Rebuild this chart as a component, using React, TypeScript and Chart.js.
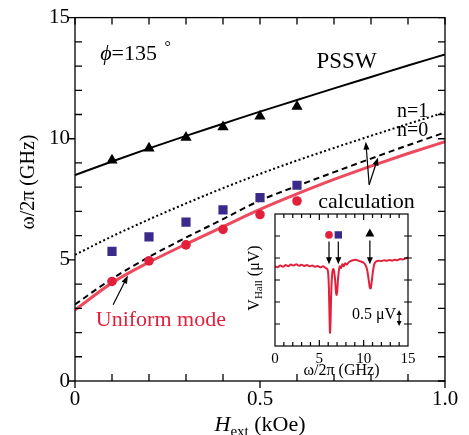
import React, { useEffect, useRef } from 'react';
import { Chart, registerables } from 'chart.js';
Chart.register(...registerables);

// ---------- data ----------
const measuredField = [0.1, 0.2, 0.3, 0.4, 0.5, 0.6];
const psswMeasured = [9.11, 9.61, 10.05, 10.48, 10.93, 11.33];
const squareMeasured = [5.35, 5.95, 6.56, 7.06, 7.57, 8.08];
const uniformMeasured = [4.11, 4.96, 5.62, 6.26, 6.87, 7.43];

const calcField = [0, 0.1, 0.2, 0.3, 0.4, 0.5, 0.6, 0.7, 0.8, 0.9, 1.0];
const psswCalc = [8.5, 9.06, 9.6, 10.12, 10.62, 11.12, 11.6, 12.08, 12.55, 13.02, 13.48];
const n1Calc = [5.21, 5.97, 6.67, 7.33, 7.96, 8.55, 9.1, 9.62, 10.12, 10.61, 11.09];
const n0Calc = [3.16, 4.22, 5.12, 5.92, 6.68, 7.45, 8.05, 8.62, 9.18, 9.73, 10.26];
const uniformCalc = [2.93, 4.05, 4.9, 5.65, 6.37, 7.08, 7.72, 8.32, 8.87, 9.39, 9.88];

const xTickValues = [0, 0.5, 1.0];
const yTickValues = [0, 5, 10, 15];

// inset spectrum (frequency in GHz, signal in arbitrary units)
const insetFreq = [0, 0.3, 0.6, 0.9, 1.2, 1.5, 1.8, 2.1, 2.4, 2.7, 3.0, 3.3, 3.6, 3.9, 4.2, 4.5, 4.8, 5.1, 5.4, 5.7, 5.9, 6.0, 6.08, 6.15, 6.2, 6.25, 6.32, 6.4, 6.5, 6.6, 6.7, 6.8, 6.88, 6.95, 7.02, 7.1, 7.2, 7.3, 7.45, 7.6, 7.75, 7.9, 8.1, 8.3, 8.5, 8.8, 9.1, 9.4, 9.7, 10.0, 10.2, 10.4, 10.55, 10.7, 10.8, 10.9, 11.05, 11.2, 11.4, 11.7, 12.0, 12.3, 12.6, 12.9, 13.2, 13.5, 13.8, 14.1, 14.4, 14.7, 15.0];
const insetSignal = [3.62, 3.58, 3.66, 3.6, 3.68, 3.63, 3.7, 3.66, 3.72, 3.65, 3.69, 3.64, 3.68, 3.62, 3.66, 3.6, 3.64, 3.58, 3.62, 3.55, 3.5, 3.3, 2.6, 1.3, 0.6, 0.9, 2.1, 3.0, 3.45, 3.5, 3.3, 2.9, 2.45, 2.32, 2.5, 3.0, 3.4, 3.62, 3.55, 3.72, 3.62, 3.76, 3.7, 3.8, 3.86, 3.9, 3.92, 3.88, 3.84, 3.78, 3.68, 3.45, 3.05, 2.65, 2.62, 2.9, 3.4, 3.72, 3.84, 3.88, 3.86, 3.9, 3.87, 3.91, 3.88, 3.92, 3.9, 3.95, 3.93, 3.98, 4.02];
const insetPeakFreq = [6.09, 7.14, 10.7];
const insetMarkerLevel = [5.05, 5.05, 5.1];
const insetTickLabels = [0, 5, 10, 15];

const serif = "'Liberation Serif','Times New Roman',serif";
const RED = '#e3203c';
const PURPLE = '#3b2a8a';

function pts(xs: number[], ys: number[]) {
  return xs.map((x, i) => ({ x, y: ys[i] }));
}

function arrow(ctx: CanvasRenderingContext2D, x1: number, y1: number, x2: number, y2: number, head = 8, hw = 3) {
  const ang = Math.atan2(y2 - y1, x2 - x1);
  ctx.beginPath();
  ctx.moveTo(x1, y1);
  ctx.lineTo(x2 - Math.cos(ang) * head * 0.8, y2 - Math.sin(ang) * head * 0.8);
  ctx.stroke();
  ctx.beginPath();
  ctx.moveTo(x2, y2);
  ctx.lineTo(x2 - Math.cos(ang) * head + Math.sin(ang) * hw, y2 - Math.sin(ang) * head - Math.cos(ang) * hw);
  ctx.lineTo(x2 - Math.cos(ang) * head - Math.sin(ang) * hw, y2 - Math.sin(ang) * head + Math.cos(ang) * hw);
  ctx.closePath();
  ctx.fill();
}

const mainDeco = {
  id: 'mainDeco',
  afterDraw(chart: any) {
    const { ctx, chartArea: a } = chart;
    const x = chart.scales.x, y = chart.scales.y;
    const X = (v: number) => x.getPixelForValue(v);
    const Y = (v: number) => y.getPixelForValue(v);
    ctx.save();
    ctx.strokeStyle = '#000';
    ctx.fillStyle = '#000';
    ctx.lineWidth = 1.3;
    ctx.strokeRect(a.left, a.top, a.right - a.left, a.bottom - a.top);
    ctx.beginPath();
    for (let v = 0; v <= 15; v++) {
      const py = Y(v);
      if (v % 5 === 0) { ctx.moveTo(a.left - 7, py); ctx.lineTo(a.left, py); }
      else { ctx.moveTo(a.left, py); ctx.lineTo(a.left + 7, py); }
      ctx.moveTo(a.right, py); ctx.lineTo(a.right - 7, py);
    }
    for (let i = 0; i <= 10; i++) {
      const px = X(i / 10);
      if (i % 5 === 0) { ctx.moveTo(px, a.bottom); ctx.lineTo(px, a.bottom + 7); }
      else { ctx.moveTo(px, a.bottom); ctx.lineTo(px, a.bottom - 7); }
      ctx.moveTo(px, a.top); ctx.lineTo(px, a.top + 7);
    }
    ctx.stroke();

    // axis titles
    ctx.textBaseline = 'alphabetic';
    ctx.textAlign = 'left';
    ctx.font = `italic 22px ${serif}`;
    const wH = ctx.measureText('H').width;
    ctx.font = `15px ${serif}`;
    const wSub = ctx.measureText('ext').width;
    ctx.font = `22px ${serif}`;
    const wRest = ctx.measureText(' (kOe)').width;
    let sx = (a.left + a.right) / 2 - (wH + wSub + wRest) / 2;
    const by = 431;
    ctx.font = `italic 22px ${serif}`;
    ctx.fillText('H', sx, by);
    sx += wH;
    ctx.font = `15px ${serif}`;
    ctx.fillText('ext', sx, by + 5);
    sx += wSub;
    ctx.font = `22px ${serif}`;
    ctx.fillText(' (kOe)', sx, by);

    ctx.save();
    ctx.translate(29, 182);
    ctx.rotate(-Math.PI / 2);
    ctx.textAlign = 'center';
    ctx.textBaseline = 'middle';
    ctx.font = `20px ${serif}`;
    ctx.fillText('ω/2π (GHz)', 0, 0);
    ctx.restore();

    // annotations
    ctx.textBaseline = 'middle';
    ctx.textAlign = 'left';
    let px = X(0.068);
    ctx.font = `italic 22px ${serif}`;
    ctx.fillText('ϕ', px, Y(13.5));
    px += ctx.measureText('ϕ').width;
    ctx.font = `22px ${serif}`;
    ctx.fillText('=135', px, Y(13.5));
    px += ctx.measureText('=135 ').width;
    ctx.font = `16px ${serif}`;
    ctx.fillText('°', px + 2, Y(13.5) - 6);

    ctx.textAlign = 'center';
    ctx.font = `23px ${serif}`;
    ctx.fillText('PSSW', X(0.734), Y(13.15));
    ctx.textAlign = 'left';
    ctx.font = `20px ${serif}`;
    ctx.fillText('n=1', X(0.87), Y(11.13));
    ctx.fillText('n=0', X(0.87), Y(10.32));
    ctx.textAlign = 'center';
    ctx.font = `22px ${serif}`;
    ctx.fillText('calculation', X(0.788), Y(7.38));
    ctx.fillStyle = RED;
    ctx.fillText('Uniform mode', X(0.232), Y(2.5));

    ctx.fillStyle = '#000';
    ctx.lineWidth = 1.2;
    arrow(ctx, X(0.795), Y(8.1), X(0.786), Y(9.88));
    arrow(ctx, X(0.795), Y(8.1), X(0.819), Y(9.23));
    arrow(ctx, X(0.103), Y(3.15), X(0.143), Y(4.35));
    ctx.restore();
  },
};

const insetDeco = {
  id: 'insetDeco',
  beforeDatasetsDraw(chart: any) {
    const { ctx, chartArea: a } = chart;
    ctx.save();
    ctx.fillStyle = '#fff';
    ctx.fillRect(a.left, a.top, a.right - a.left, a.bottom - a.top);
    ctx.restore();
  },
  afterDraw(chart: any) {
    const { ctx, chartArea: a } = chart;
    const x = chart.scales.x, y = chart.scales.y;
    const X = (v: number) => x.getPixelForValue(v);
    const Y = (v: number) => y.getPixelForValue(v);
    ctx.save();
    ctx.strokeStyle = '#000';
    ctx.fillStyle = '#000';
    ctx.lineWidth = 1.2;
    ctx.strokeRect(a.left, a.top, a.right - a.left, a.bottom - a.top);
    ctx.beginPath();
    for (let v = 1; v < 6; v++) {
      const py = Y(v);
      ctx.moveTo(a.left, py); ctx.lineTo(a.left + 5, py);
      ctx.moveTo(a.right - 4, py); ctx.lineTo(a.right + 4, py);
    }
    for (let g = 1; g < 15; g++) {
      const px = X(g);
      const len = g % 5 === 0 ? 6 : 4;
      ctx.moveTo(px, a.bottom); ctx.lineTo(px, a.bottom - len);
      ctx.moveTo(px, a.top); ctx.lineTo(px, a.top + len);
    }
    ctx.stroke();

    // arrows from markers to the dips
    ctx.lineWidth = 1.2;
    insetPeakFreq.forEach((f, i) => {
      arrow(ctx, X(f), Y(insetMarkerLevel[i] - 0.3), X(f), Y(3.72), 7, 3);
    });

    // scale bar
    ctx.textAlign = 'right';
    ctx.textBaseline = 'middle';
    ctx.font = `16px ${serif}`;
    ctx.fillText('0.5 μV', X(13.65), Y(1.41));
    const mid = (Y(1.64) + Y(0.91)) / 2;
    arrow(ctx, X(14.0), mid, X(14.0), Y(1.64), 5, 2.5);
    arrow(ctx, X(14.0), mid, X(14.0), Y(0.91), 5, 2.5);

    // x title
    ctx.textAlign = 'center';
    ctx.font = `16px ${serif}`;
    ctx.fillText('ω/2π (GHz)', (a.left + a.right) / 2, 166);

    // y title
    ctx.save();
    ctx.translate(18, 73);
    ctx.rotate(-Math.PI / 2);
    ctx.textBaseline = 'alphabetic';
    ctx.textAlign = 'left';
    ctx.font = `16px ${serif}`;
    const w1 = ctx.measureText('V').width;
    ctx.font = `11px ${serif}`;
    const w2 = ctx.measureText('Hall').width;
    ctx.font = `16px ${serif}`;
    const w3 = ctx.measureText(' (μV)').width;
    let sx = -(w1 + w2 + w3) / 2;
    ctx.fillText('V', sx, 6);
    sx += w1;
    ctx.font = `11px ${serif}`;
    ctx.fillText('Hall', sx, 9);
    sx += w2;
    ctx.font = `16px ${serif}`;
    ctx.fillText(' (μV)', sx, 6);
    ctx.restore();
    ctx.restore();
  },
};

export default function App() {
  const mainRef = useRef<HTMLCanvasElement>(null);
  const insetRef = useRef<HTMLCanvasElement>(null);

  useEffect(() => {
    document.body.style.margin = '0';
    const lineDs = (label: string, ys: number[], color: string, width: number, dash: number[]) => ({
      label,
      data: pts(calcField, ys),
      showLine: true,
      borderColor: color,
      borderWidth: width,
      borderDash: dash,
      pointRadius: 0,
      tension: 0.4,
      cubicInterpolationMode: 'monotone',
      fill: false,
      order: 2,
    });
    const markDs = (label: string, ys: number[], style: string, r: number, color: string) => ({
      label,
      data: pts(measuredField, ys),
      showLine: false,
      pointStyle: style,
      pointRadius: r,
      pointBackgroundColor: color,
      pointBorderColor: color,
      pointBorderWidth: 0,
      order: 1,
    });

    const main = new Chart(mainRef.current as HTMLCanvasElement, {
      type: 'scatter',
      data: {
        datasets: [
          markDs('PSSW data', psswMeasured, 'triangle', 6.5, '#000'),
          markDs('n=1 data', squareMeasured, 'rect', 6.5, PURPLE),
          markDs('Uniform data', uniformMeasured, 'circle', 4.8, RED),
          lineDs('PSSW calc', psswCalc, '#000', 2, []),
          lineDs('n=1 calc', n1Calc, '#000', 2, [2, 2.5]),
          lineDs('n=0 calc', n0Calc, '#000', 2, [6, 4]),
          lineDs('Uniform calc', uniformCalc, '#ee4a5e', 3, []),
        ] as any,
      },
      options: {
        responsive: false,
        animation: false,
        layout: { padding: { top: 9, right: 24, left: 0, bottom: 0 } },
        plugins: { legend: { display: false }, tooltip: { enabled: false } },
        scales: {
          x: {
            type: 'linear',
            min: 0,
            max: 1,
            afterFit: (s: any) => { s.height = 54; },
            afterBuildTicks: (s: any) => { s.ticks = xTickValues.map((v) => ({ value: v })); },
            grid: { display: false, drawTicks: false },
            border: { display: false },
            ticks: {
              padding: 6,
              color: '#000',
              font: { family: serif, size: 21 },
              callback: (v: any) => (v === 0 ? '0' : Number(v).toFixed(1)),
            },
          },
          y: {
            type: 'linear',
            min: 0,
            max: 15,
            afterFit: (s: any) => { s.width = 75; },
            afterBuildTicks: (s: any) => { s.ticks = yTickValues.map((v) => ({ value: v })); },
            grid: { display: false, drawTicks: false },
            border: { display: false },
            ticks: { padding: 5, color: '#000', font: { family: serif, size: 21 } },
          },
        },
      } as any,
      plugins: [mainDeco],
    });

    const inset = new Chart(insetRef.current as HTMLCanvasElement, {
      type: 'scatter',
      data: {
        datasets: [
          {
            label: 'markers',
            data: pts(insetPeakFreq, insetMarkerLevel),
            showLine: false,
            pointStyle: ['circle', 'rect', 'triangle'],
            pointRadius: [3.8, 5.2, 5.2],
            pointBackgroundColor: [RED, PURPLE, '#000'],
            pointBorderColor: [RED, PURPLE, '#000'],
            pointBorderWidth: 0,
            order: 1,
          },
          {
            label: 'V_Hall',
            data: pts(insetFreq, insetSignal),
            showLine: true,
            borderColor: RED,
            borderWidth: 2,
            pointRadius: 0,
            tension: 0.2,
            order: 2,
          },
        ] as any,
      },
      options: {
        responsive: false,
        animation: false,
        layout: { padding: { top: 9, right: 17, left: 0, bottom: 0 } },
        plugins: { legend: { display: false }, tooltip: { enabled: false } },
        scales: {
          x: {
            type: 'linear',
            min: 0,
            max: 15,
            afterFit: (s: any) => { s.height = 44; },
            afterBuildTicks: (s: any) => { s.ticks = insetTickLabels.map((v) => ({ value: v })); },
            grid: { display: false, drawTicks: false },
            border: { display: false },
            ticks: { padding: 4, color: '#000', font: { family: serif, size: 15 } },
          },
          y: {
            type: 'linear',
            min: 0,
            max: 6,
            afterFit: (s: any) => { s.width = 40; },
            grid: { display: false, drawTicks: false },
            border: { display: false },
            ticks: { display: false },
          },
        },
      } as any,
      plugins: [insetDeco],
    });

    return () => {
      main.destroy();
      inset.destroy();
    };
  }, []);

  return (
    <div style={{ position: 'relative', width: 469, height: 435 }}>
      <canvas ref={mainRef} width={469} height={435} style={{ position: 'absolute', left: 0, top: 0 }} />
      <canvas ref={insetRef} width={190} height={185} style={{ position: 'absolute', left: 235, top: 205 }} />
    </div>
  );
}
